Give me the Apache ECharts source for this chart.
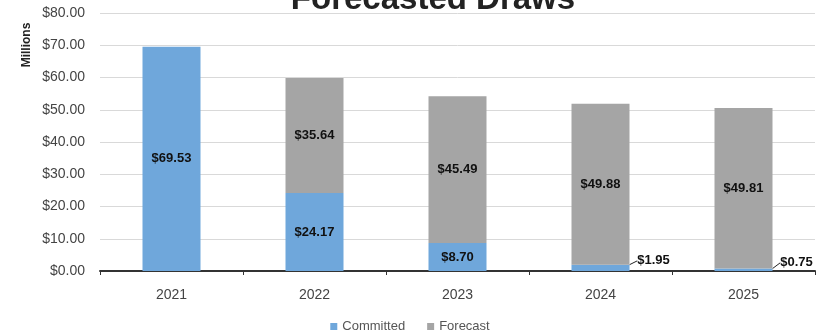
<!DOCTYPE html>
<html>
<head>
<meta charset="utf-8">
<script src="https://cdn.jsdelivr.net/npm/echarts@6/dist/echarts.min.js"></script>
<style>
  html, body { margin: 0; padding: 0; background: #fff; }
  #chart { width: 820px; height: 336px; }
</style>
</head>
<body>
<div id="chart"></div>
<script>
// values in millions of dollars
const years = ['2021', '2022', '2023', '2024', '2025'];
const committed = [69.53, 24.17, 8.70, 1.95, 0.75];
const forecast = [0, 35.64, 45.49, 49.88, 49.81];
const yTicks = { min: 0, max: 80, interval: 10 };

const font = 'Liberation Sans';
const money = v => '$' + v.toFixed(2);

function barPoint(v) {
	// a zero value draws nothing at all
	if (!v) return '-';
	return {
		value: v,
		label: {
			show: true,
			position: 'inside',
			color: '#111',
			fontWeight: 'bold',
			fontSize: 13,
			fontFamily: font,
			formatter: p => money(p.value)
		}
	};
}

let chart = echarts.init(document.getElementById('chart'));
chart.setOption({
	animation: false,
	title: {
		text: 'Forecasted Draws',
		left: 428,
		textAlign: 'center',
		top: -22,
		textStyle: { fontSize: 33, fontWeight: 'bold', color: '#222', fontFamily: font }
	},
	graphic: [{
		type: 'text',
		x: 27,
		y: 45,
		rotation: Math.PI / 2,
		style: {
			text: 'Millions',
			fill: '#222',
			font: 'bold 12px "Liberation Sans"',
			align: 'center',
			verticalAlign: 'middle'
		}
	}],
	grid: { left: 100, right: 5, top: 13, bottom: 65 },
	legend: {
		bottom: -2,
		left: 'center',
		itemWidth: 7,
		itemHeight: 7,
		itemGap: 22,
		icon: 'rect',
		textStyle: { color: '#555', fontSize: 13, fontFamily: font },
		data: ['Committed', 'Forecast']
	},
	xAxis: {
		type: 'category',
		data: years,
		axisLine: { lineStyle: { color: '#333', width: 2 } },
		axisTick: { show: true, length: 4, lineStyle: { color: '#333' } },
		axisLabel: { color: '#444', fontSize: 14, fontFamily: font, margin: 17 }
	},
	yAxis: {
		type: 'value',
		min: yTicks.min,
		max: yTicks.max,
		interval: yTicks.interval,
		axisLine: { show: false },
		axisTick: { show: false },
		splitLine: { lineStyle: { color: '#d9d9d9' } },
		axisLabel: { color: '#444', fontSize: 14, fontFamily: font, margin: 15, formatter: v => money(v) }
	},
	series: [
		{
			name: 'Committed',
			type: 'bar',
			stack: 'draws',
			barWidth: 58,
			itemStyle: { color: '#6FA7DB' },
			data: committed.map(barPoint),
			labelLine: { show: true, lineStyle: { color: '#222', width: 1 } },
			labelLayout: p => p.dataIndex >= 3 ? { dx: 53, dy: -7 } : {}
		},
		{
			name: 'Forecast',
			type: 'bar',
			stack: 'draws',
			barWidth: 58,
			itemStyle: { color: '#A5A5A5' },
			data: forecast.map(barPoint)
		}
	]
});
</script>
</body>
</html>
